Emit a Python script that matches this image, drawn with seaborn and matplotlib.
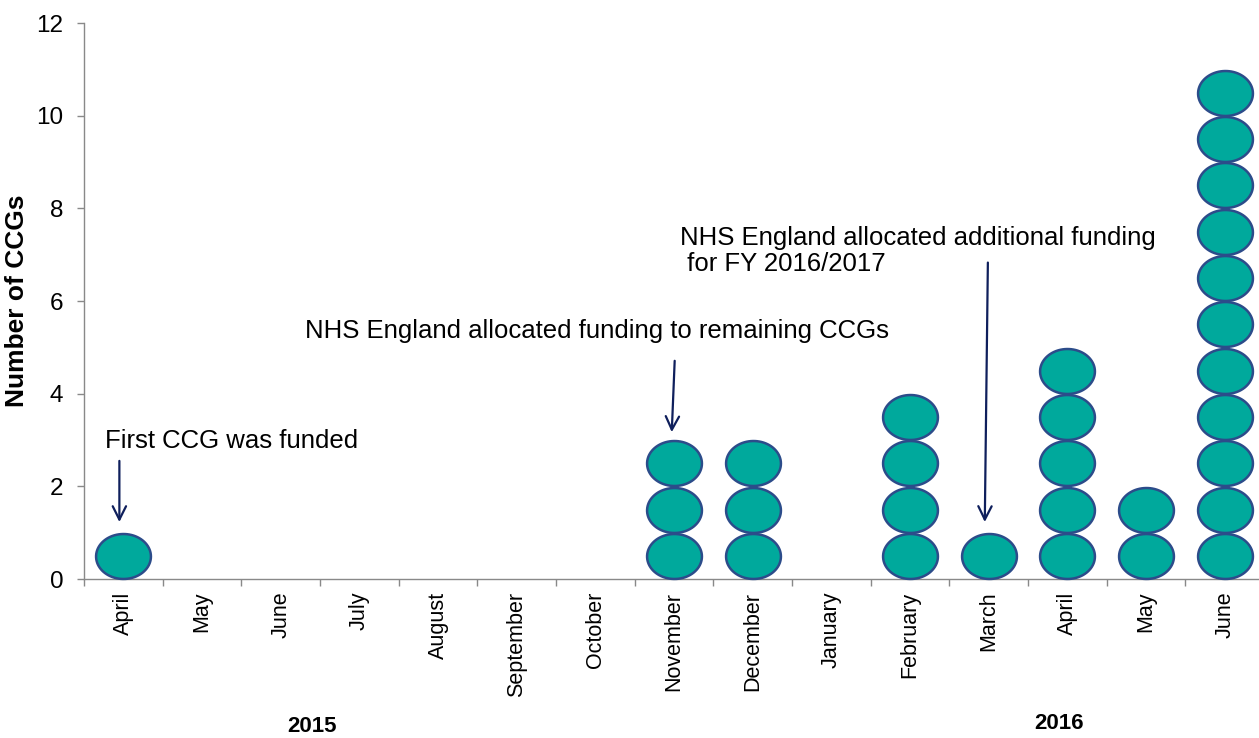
import numpy as np
import pandas as pd
import matplotlib
matplotlib.use('Agg')
import matplotlib.pyplot as plt
import matplotlib.transforms as mtransforms
from matplotlib.path import Path
import seaborn as sns

sns.set_theme(style="white")
plt.rcParams['font.family'] = ['Liberation Sans', 'DejaVu Sans']
plt.rcParams['text.color'] = 'black'
plt.rcParams['axes.labelcolor'] = 'black'
plt.rcParams['xtick.labelcolor'] = 'black'
plt.rcParams['ytick.labelcolor'] = 'black'

# 数据
months = ['April', 'May', 'June', 'July', 'August', 'September', 'October',
          'November', 'December', 'January', 'February', 'March', 'April',
          'May', 'June']
counts = [1, 0, 0, 0, 0, 0, 0, 3, 3, 0, 4, 1, 5, 2, 11]
years = ['2015', '2016']

# 每个CCG一个椭圆，堆叠
rows = []
for i, c in enumerate(counts):
    for k in range(c):
        rows.append({'pos': i, 'level': k + 0.5})
df = pd.DataFrame(rows)

# 椭圆形标记
t = np.linspace(0, 2 * np.pi, 80)
ellipse = Path(np.column_stack([1.22 * np.cos(t), np.sin(t)]), closed=True)

fig = plt.figure(figsize=(12.59, 7.38), dpi=100)
ax = fig.add_axes([0.0667, 0.2154, 0.9373, 0.7534])

sns.scatterplot(data=df, x='pos', y='level', marker=ellipse, s=1560,
                color='#00A99C', edgecolor='#2C4C8A', linewidth=1.8,
                ax=ax, legend=False, zorder=3, clip_on=False)

ax.set_xlim(-0.5, len(months) - 0.5)
ax.set_ylim(0, 12)
ax.set_yticks(range(0, 13, 2))
ax.set_xticks(range(len(months)))
ax.set_xticklabels(months, rotation=90, fontsize=15.5)
ax.set_xticks(np.arange(-0.5, len(months), 1), minor=True)
ax.tick_params(axis='x', which='major', length=0, pad=9)
ax.tick_params(axis='x', which='minor', length=5, color='#898989', width=1,
               direction='out', bottom=True)
ax.tick_params(axis='y', length=5, color='#898989', width=1, direction='out',
               left=True, labelsize=17.5, pad=10)
ax.set_xlabel('')
ax.set_ylabel('Number of CCGs', fontsize=19, fontweight='bold', labelpad=5)

for side in ['top', 'right']:
    ax.spines[side].set_visible(False)
for side in ['left', 'bottom']:
    ax.spines[side].set_color('#898989')
    ax.spines[side].set_linewidth(1)

# 注释
arrow = dict(arrowstyle='->', color='#0F1F5C', lw=1.6, mutation_scale=24)
ax.annotate('', xy=(-0.05, 1.17), xytext=(-0.05, 2.61), arrowprops=arrow)
ax.text(-0.23, 2.97, 'First CCG was funded', fontsize=18.5, va='center', ha='left')

ax.annotate('', xy=(6.97, 3.11), xytext=(7.01, 4.77), arrowprops=arrow)
ax.text(2.31, 5.35, 'NHS England allocated funding to remaining CCGs',
        fontsize=18.5, va='center', ha='left')

ax.annotate('', xy=(10.95, 1.17), xytext=(10.99, 6.89), arrowprops=arrow)
ax.text(7.07, 7.08, 'NHS England allocated additional funding\n for FY 2016/2017',
        fontsize=18.5, va='center', ha='left', linespacing=1.15)

# 年份
trans = mtransforms.blended_transform_factory(ax.transData, fig.transFigure)
for x, y, label in [(2.4, 0.015, years[0]), (11.9, 0.020, years[1])]:
    ax.text(x, y, label, transform=trans, fontsize=16, fontweight='bold',
            ha='center', va='center')

fig.savefig('out.png', dpi=100)
